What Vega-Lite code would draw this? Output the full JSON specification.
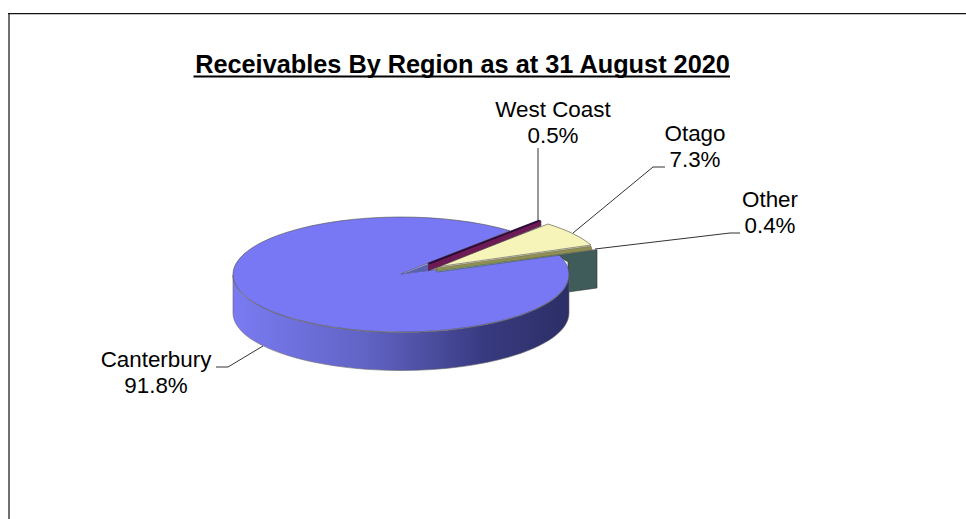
{"$schema":"https://vega.github.io/schema/vega-lite/v6.json","width":966,"height":519,"padding":0,"autosize":{"type":"none"},"background":"white","config":{"view":{"stroke":null},"font":"Liberation Sans"},
"title":{"text":"Receivables By Region as at 31 August 2020","font":"Liberation Sans","fontSize":25.3,"fontWeight":"bold","color":"black","anchor":"middle","frame":"group","dx":-20.5,"offset":-98,"baseline":"alphabetic"},
"data":{"values":[{"region":"Canterbury","share":0.918},{"region":"Other","share":0.004},{"region":"Otago","share":0.073},{"region":"West Coast","share":0.005}]},
"layer":[
{"data":{"values":[{"part":"frame left"}]},"mark":{"type":"point","size":4,"filled":true,"opacity":1,"fill":"#707070","shape":"M-475,-246.5 L-473,-246.5 L-473,259.5 L-475,259.5 Z"},"encoding":{}},
{"data":{"values":[{"part":"frame top"}]},"mark":{"type":"point","size":4,"filled":true,"opacity":1,"fill":"#111111","shape":"M-475,-246.6 L483,-246.6 L483,-245.3 L-475,-245.3 Z"},"encoding":{}},
{"data":{"values":[{"part":"title underline"}]},"mark":{"type":"point","size":4,"filled":true,"opacity":1,"fill":"#000000","shape":"M-289.5,-184 L247,-184 L247,-182 L-289.5,-182 Z"},"encoding":{}},
{"transform":[{"filter":"datum.region==='Other'"}],"mark":{"type":"point","size":4,"filled":true,"opacity":1,"fill":"#3f5b5a","stroke":"#333333","strokeWidth":0.6,"shape":"M72,-5.5 L114,-9.5 L114,28.5 L85,32.5 L85,2.5 Z"},"encoding":{}},
{"transform":[{"filter":"datum.region==='Canterbury'"}],"mark":{"type":"point","size":4,"filled":true,"opacity":1,"stroke":"#666666","strokeWidth":0.6,"fill":{"gradient":"linear","x1":0,"y1":0,"x2":1,"y2":0,"stops":[{"offset":0,"color":"#7a7bf2"},{"offset":0.4,"color":"#6163c4"},{"offset":0.75,"color":"#383a80"},{"offset":1,"color":"#2c2e66"}]},"shape":"M-250,15.5 L-250,53.5 A168,57.5 0 0 0 86,53.5 L86,15.5 A168,57.5 0 0 1 -250,15.5 Z"},"encoding":{}},
{"mark":{"type":"point","size":4,"filled":true,"opacity":1,"stroke":"#4a4a4a","strokeWidth":0.6},"encoding":{"shape":{"field":"region","type":"nominal","legend":null,"scale":{"domain":["Canterbury","Other","Otago","West Coast"],"range":["M-82,14.5 L27,-28.75 A168,57.5 0 1 0 74,-6.34 Z","M-47,10.5 L109,-9.5 L114,-9.5 L-46,12.5 Z","M-47,7.5 L65,-35.5 A168,57.5 0 0 1 108,-14.5 Z","M-55,3.5 L56,-39.5 L58,-38.5 L58,-33.5 L-47,8.5 L-55,11.5 Z"]}},"fill":{"field":"region","type":"nominal","legend":null,"scale":{"domain":["Canterbury","Other","Otago","West Coast"],"range":["#7878f4","#7fc4c4","#f6f4b8","#6d1a55"]}}}},
{"transform":[{"filter":"datum.region==='Otago'"}],"mark":{"type":"point","size":4,"filled":true,"opacity":1,"fill":"#8f8f55","stroke":"#555533","strokeWidth":0.4,"shape":"M-47,8.5 L108,-13.5 L109,-9.5 L-46,11.5 Z"},"encoding":{}},
{"transform":[{"filter":"datum.region==='West Coast'"}],"mark":{"type":"point","size":4,"filled":true,"opacity":1,"fill":"#2a0a3a","shape":"M-55,3.5 L56,-39.5 L58,-38.5 L-53,4.8 Z"},"encoding":{}},
{"transform":[{"filter":"datum.region==='Canterbury'"}],"mark":{"type":"point","size":4,"filled":true,"opacity":1,"fill":"#5a62ae","shape":"M-81,14.5 L-55,4.5 L-55,11.5 Z"},"encoding":{}},
{"mark":{"type":"point","size":4,"filled":false,"opacity":1,"stroke":"#333333","strokeWidth":1,"fillOpacity":0},"encoding":{"shape":{"field":"region","type":"nominal","legend":null,"scale":{"domain":["Canterbury","Other","Otago","West Coast"],"range":["M-267,107.5 L-255,107.5 L-220,86.5","M257,-26.5 L247,-26.5 L112,-10.5","M182,-92.5 L170,-92.5 L90,-26.5","M55,-111.5 L55,-39.5"]}}}},
{"mark":{"type":"text","fontSize":22.4,"color":"#000000","dy":-13,"baseline":"middle","align":"center"},"encoding":{"x":{"field":"share","type":"quantitative","axis":null,"scale":{"zero":false,"nice":false,"domain":[0.004,0.005,0.073,0.918],"range":[770,553,695,156]}},"y":{"field":"share","type":"quantitative","axis":null,"scale":{"zero":false,"nice":false,"domain":[0.004,0.005,0.073,0.918],"range":[213,123,147,373]}},"text":{"field":"region","type":"nominal"}}},
{"mark":{"type":"text","fontSize":22.4,"color":"#000000","dy":13,"baseline":"middle","align":"center"},"encoding":{"x":{"field":"share","type":"quantitative","axis":null,"scale":{"zero":false,"nice":false,"domain":[0.004,0.005,0.073,0.918],"range":[770,553,695,156]}},"y":{"field":"share","type":"quantitative","axis":null,"scale":{"zero":false,"nice":false,"domain":[0.004,0.005,0.073,0.918],"range":[213,123,147,373]}},"text":{"field":"share","type":"quantitative","format":".1%"}}}
],
"resolve":{"scale":{"shape":"independent","fill":"independent"}}}
